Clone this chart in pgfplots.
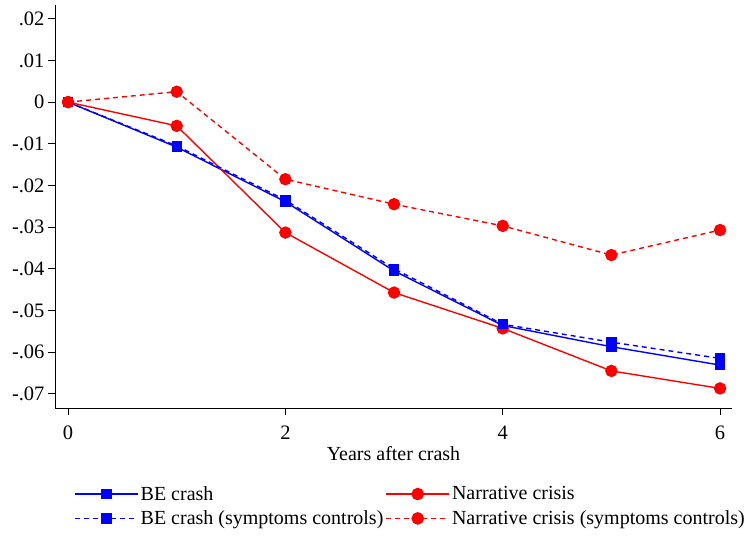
\documentclass[border=0pt]{standalone}
\usepackage{fontspec}
\setmainfont{Liberation Serif}
\usepackage{pgfplots}
\pgfplotsset{compat=1.18}

\begin{document}
\begin{tikzpicture}
\begin{axis}[
  scale only axis,
  width=677pt, height=403pt,
  xmin=-0.12, xmax=6.11,
  ymin=-0.0734, ymax=0.0233,
  axis x line*=bottom, axis y line*=left,
  axis line style={-, line width=0.9pt},
  xtick={0,2,4,6},
  ytick={-0.07,-0.06,-0.05,-0.04,-0.03,-0.02,-0.01,0,0.01,0.02},
  yticklabels={-.07,-.06,-.05,-.04,-.03,-.02,-.01,0,.01,.02},
  scaled y ticks=false,
  tick align=outside, major tick length=7pt,
  tick style={black, line width=0.9pt},
  /pgf/number format/assume math mode=true,
  ticklabel style={font=\fontsize{20.5}{22}\selectfont},
  xticklabel style={yshift=-7pt},
  xlabel={Years after crash},
  label style={font=\fontsize{20}{22}\selectfont},
  legend columns=2,
  legend style={draw=none, at={(0.525,-0.184)}, anchor=north,
    font=\fontsize{20}{22}\selectfont, row sep=5pt,
    /tikz/every even column/.append style={column sep=0pt}},
  legend cell align=left,
  legend image post style={line width=1.6pt},
  legend image code/.code={
    \draw[mark repeat=2, mark phase=2, #1] plot coordinates {(0pt,0pt) (31.5pt,0pt) (63pt,0pt)};
  },
]
\addplot[color=blue, line width=1.4pt, mark=square*, mark size=4.5pt, mark options={solid}]
  coordinates {(0,0)(1,-0.0108)(2,-0.0239)(3,-0.0405)(4,-0.0536)(5,-0.0587)(6,-0.0631)};
\addlegendentry{BE crash}
\addplot[color=red, line width=1.4pt, mark=*, mark size=5.5pt, mark options={solid}]
  coordinates {(0,0)(1,-0.0057)(2,-0.0313)(3,-0.0457)(4,-0.0543)(5,-0.0645)(6,-0.0687)};
\addlegendentry{Narrative crisis}
\addplot[color=blue, line width=1.4pt, dash pattern=on 5pt off 4pt, mark=square*, mark size=4.5pt, mark options={solid}]
  coordinates {(0,0)(1,-0.0105)(2,-0.0235)(3,-0.0400)(4,-0.0533)(5,-0.0576)(6,-0.0615)};
\addlegendentry{BE crash (symptoms controls)}
\addplot[color=red, line width=1.4pt, dash pattern=on 5pt off 4pt, mark=*, mark size=5.5pt, mark options={solid}]
  coordinates {(0,0)(1,0.0025)(2,-0.0185)(3,-0.0245)(4,-0.0297)(5,-0.0367)(6,-0.0307)};
\addlegendentry{Narrative crisis (symptoms controls)}
\end{axis}
\path ([xshift=-55pt, yshift=-127pt]current axis.south west) rectangle ([xshift=19pt, yshift=5pt]current axis.north east);
\end{tikzpicture}
\end{document}
